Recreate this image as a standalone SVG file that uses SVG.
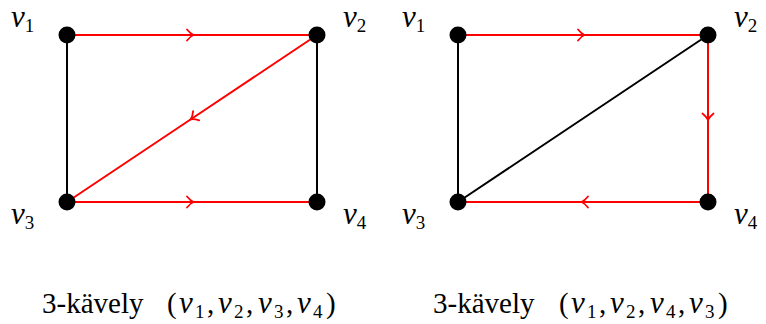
<svg xmlns="http://www.w3.org/2000/svg" width="766" height="324" viewBox="0 0 766 324">
<style>
.e{fill:none;stroke-width:2;stroke-linecap:round}
.r{stroke:#ff0000}
.k{stroke:#000}
.a{marker-mid:url(#m)}
.n{fill:#000}
.lab{font-family:'Liberation Serif','DejaVu Serif',serif;font-size:29px;fill:#000}
.v{font-style:italic;font-size:31px}
.s{font-size:19px}
</style>
<defs>
<marker id="m" markerUnits="userSpaceOnUse" markerWidth="14" markerHeight="14" viewBox="-7 -7 14 14" refX="0" refY="0" orient="auto">
<path d="M-5,-5.5 Q-1.5,-1.2 1.5,0 Q-1.5,1.2 -5,5.5" fill="none" stroke="#ff0000" stroke-width="1.8" stroke-linecap="round"/>
</marker>
</defs>
<g id="connectors">
<line class="e k" x1="67" y1="35" x2="67" y2="202"/>
<line class="e k" x1="317" y1="35" x2="317" y2="202"/>
<polyline class="e r a" points="67,35 192,35 317,35"/>
<polyline class="e r a" points="317,35 192,118.5 67,202"/>
<polyline class="e r a" points="67,202 192,202 317,202"/>
<line class="e k" x1="458" y1="35" x2="458" y2="202"/>
<line class="e k" x1="708" y1="35" x2="458" y2="202"/>
<polyline class="e r a" points="458,35 583,35 708,35"/>
<polyline class="e r a" points="708,35 708,118.5 708,202"/>
<polyline class="e r a" points="708,202 583,202 458,202"/>
</g>
<g id="l-v1"><circle class="n" cx="67" cy="35" r="8.5"/><text class="lab" x="11" y="27"><tspan class="v">v</tspan><tspan class="s" dy="5">1</tspan></text></g>
<g id="l-v2"><circle class="n" cx="317" cy="35" r="8.5"/><text class="lab" x="343" y="27"><tspan class="v">v</tspan><tspan class="s" dy="5">2</tspan></text></g>
<g id="l-v3"><circle class="n" cx="67" cy="202" r="8.5"/><text class="lab" x="11" y="224"><tspan class="v">v</tspan><tspan class="s" dy="5">3</tspan></text></g>
<g id="l-v4"><circle class="n" cx="317" cy="202" r="8.5"/><text class="lab" x="343" y="224"><tspan class="v">v</tspan><tspan class="s" dy="5">4</tspan></text></g>
<g id="r-v1"><circle class="n" cx="458" cy="35" r="8.5"/><text class="lab" x="402" y="27"><tspan class="v">v</tspan><tspan class="s" dy="5">1</tspan></text></g>
<g id="r-v2"><circle class="n" cx="708" cy="35" r="8.5"/><text class="lab" x="734" y="27"><tspan class="v">v</tspan><tspan class="s" dy="5">2</tspan></text></g>
<g id="r-v3"><circle class="n" cx="458" cy="202" r="8.5"/><text class="lab" x="402" y="224"><tspan class="v">v</tspan><tspan class="s" dy="5">3</tspan></text></g>
<g id="r-v4"><circle class="n" cx="708" cy="202" r="8.5"/><text class="lab" x="734" y="224"><tspan class="v">v</tspan><tspan class="s" dy="5">4</tspan></text></g>
<g id="captions">
<text class="lab" x="42" y="313">3-kävely <tspan x="167">(</tspan><tspan class="v" x="179">v</tspan><tspan class="s" x="195" y="318">1</tspan><tspan x="207" y="313">,</tspan><tspan class="v" x="218">v</tspan><tspan class="s" x="234" y="318">2</tspan><tspan x="246" y="313">,</tspan><tspan class="v" x="258">v</tspan><tspan class="s" x="274" y="318">3</tspan><tspan x="286" y="313">,</tspan><tspan class="v" x="297">v</tspan><tspan class="s" x="313" y="318">4</tspan><tspan x="326" y="313">)</tspan></text>
<text class="lab" x="433" y="313">3-kävely <tspan x="559">(</tspan><tspan class="v" x="571">v</tspan><tspan class="s" x="587" y="318">1</tspan><tspan x="599" y="313">,</tspan><tspan class="v" x="610">v</tspan><tspan class="s" x="626" y="318">2</tspan><tspan x="638" y="313">,</tspan><tspan class="v" x="650">v</tspan><tspan class="s" x="666" y="318">4</tspan><tspan x="678" y="313">,</tspan><tspan class="v" x="689">v</tspan><tspan class="s" x="705" y="318">3</tspan><tspan x="718" y="313">)</tspan></text>
</g>
</svg>
